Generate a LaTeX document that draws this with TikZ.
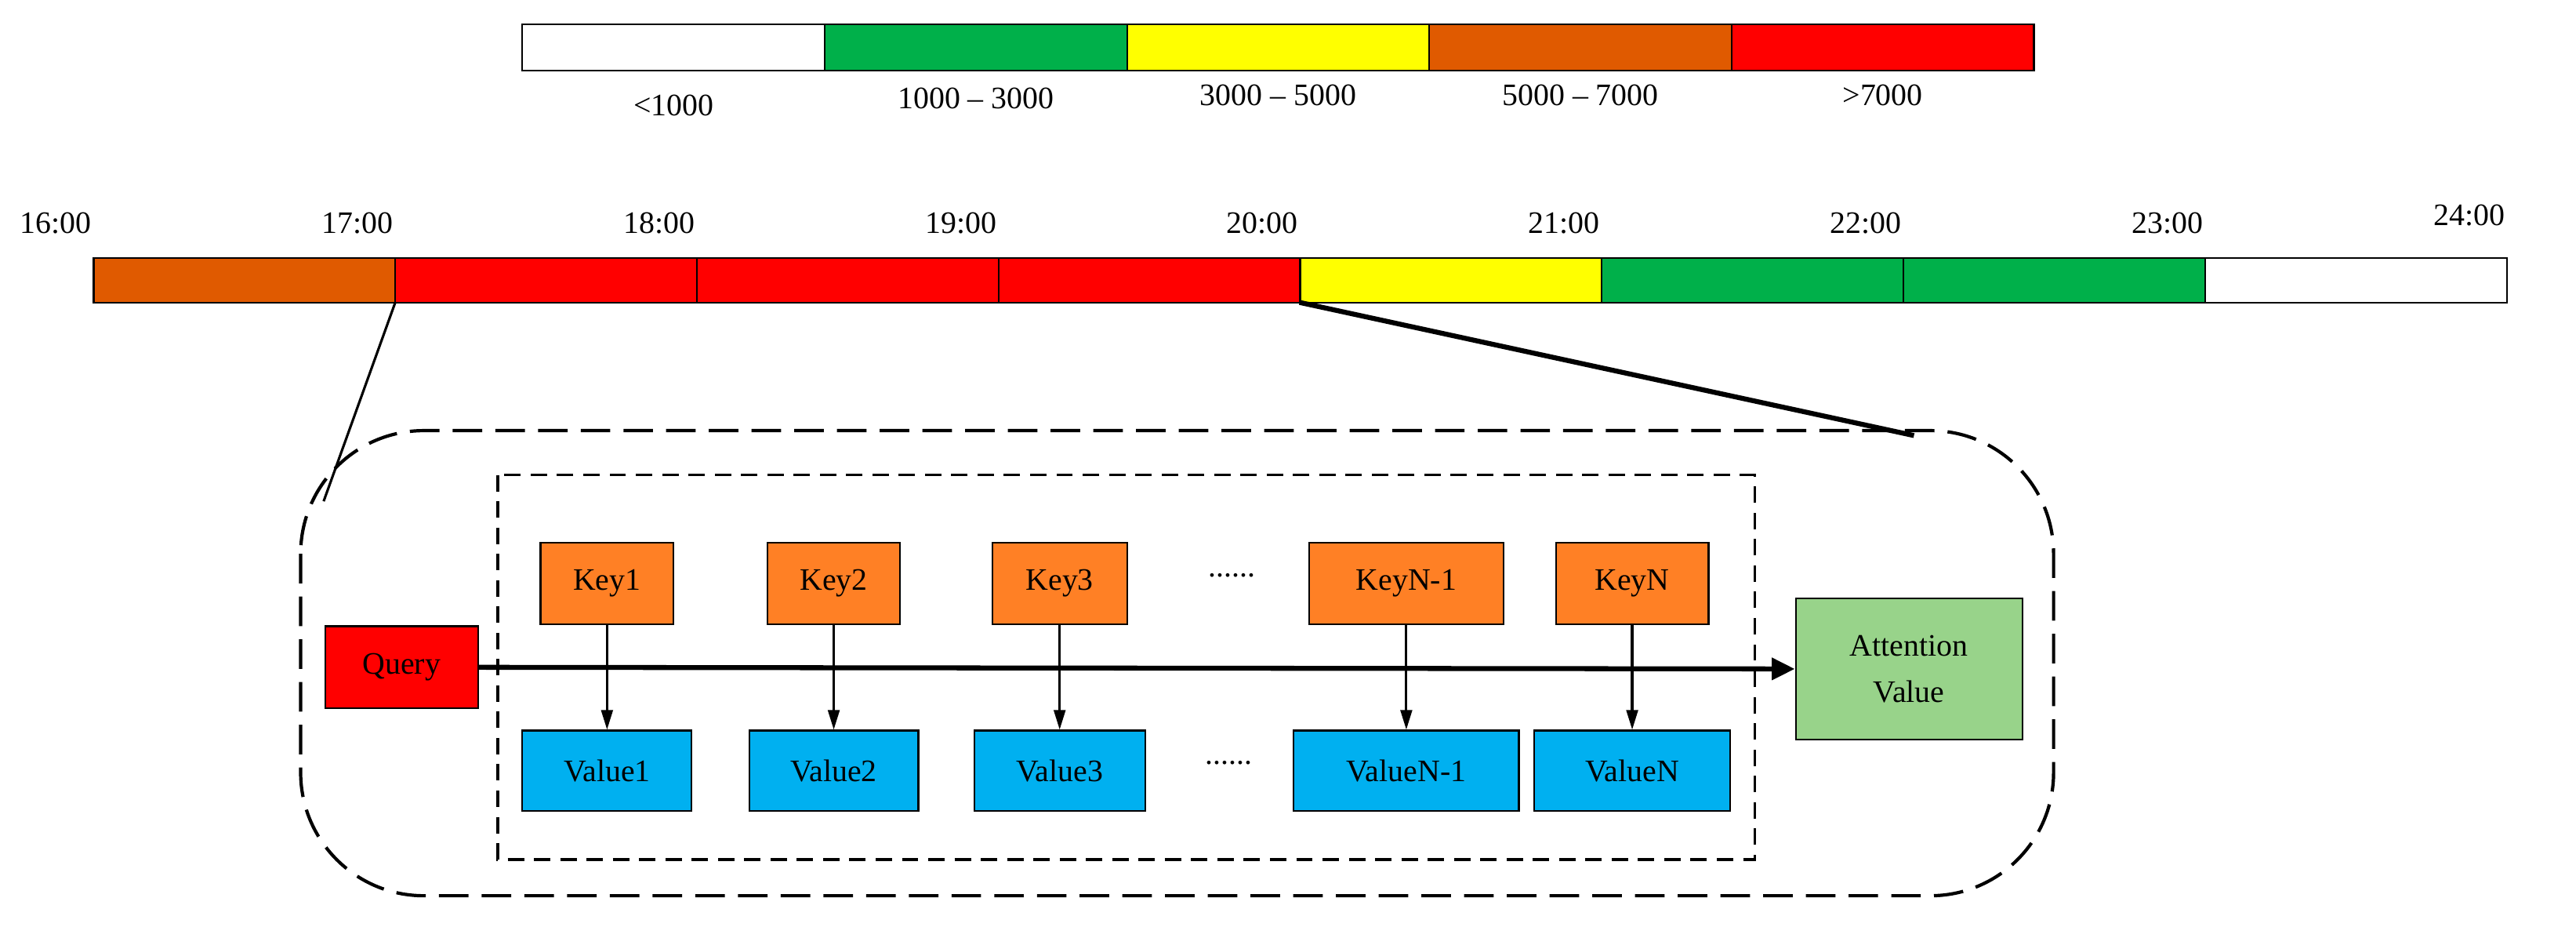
\documentclass[tikz,border=0pt]{standalone}
\usepackage{fontspec}
\setmainfont{Liberation Serif}
\usetikzlibrary{arrows.meta}
\definecolor{cgreen}{HTML}{00B04A}
\definecolor{cyellow}{HTML}{FFFF00}
\definecolor{corange}{HTML}{E05A00}
\definecolor{cred}{HTML}{FF0000}
\definecolor{kor}{HTML}{FF8025}
\definecolor{vblue}{HTML}{00B0F0}
\definecolor{agreen}{HTML}{98D38A}
\tikzset{
 cell/.style={draw=black,line width=1pt},
 lbl/.style={font=\fontsize{19}{22}\selectfont},
 blk/.style={draw=black,line width=1pt,inner sep=0pt,font=\fontsize{19}{22}\selectfont},
 karrow/.style={line width=1.5pt,-{Triangle[length=12pt,width=7pt]}},
}
\begin{document}
\begin{tikzpicture}[x=1pt,y=-1pt]
\useasboundingbox (0,0) rectangle (1568,564);
% legend
\foreach \c [count=\i from 0] in {white,cgreen,cyellow,corange,cred}
  \filldraw[cell,fill=\c] (318+184*\i,15) rectangle (502+184*\i,43);
\node[lbl] (l0) at (410,64) {<1000};
\node[lbl] (l1) at (594,60) {1000 – 3000};
\node[lbl] (l2) at (778,58) {3000 – 5000};
\node[lbl] (l3) at (962,58) {5000 – 7000};
\node[lbl] (l4) at (1146,58) {>7000};
% timeline
\foreach \c [count=\i from 0] in {corange,cred,cred,cred,cyellow,cgreen,cgreen,white}
  \filldraw[cell,fill=\c] (57+183.6*\i,157) rectangle (240.6+183.6*\i,184);
\foreach \t [count=\i from 0] in {16,17,18,19,20,21,22,23}
  \node[lbl] (t\i) at (34+183.6*\i,136) {\t:00};
\node[lbl] (t8) at (1503,131) {24:00};
\coordinate (za) at (240.6,184);
\coordinate (zb) at (791,184);
\coordinate (zc) at (197,305);
\coordinate (zd) at (1165,265);
\draw[line width=1.5pt] (za) -- (zc);
\draw[line width=3pt] (zb) -- (zd);
% outer box
\draw[line width=2pt,dash pattern=on 18pt off 8pt,rounded corners=75pt] (183,262) rectangle (1250,545);
\draw[line width=1.5pt,dash pattern=on 10pt off 6pt] (303,289) rectangle (1068,523);
% nodes
\node[blk,fill=kor,minimum width=81pt,minimum height=50pt] (k1) at (369.5,355) {Key1};
\node[blk,fill=kor,minimum width=81pt,minimum height=50pt] (k2) at (507.5,355) {Key2};
\node[blk,fill=kor,minimum width=82pt,minimum height=50pt] (k3) at (645,355) {Key3};
\node[blk,fill=kor,minimum width=118pt,minimum height=50pt] (k4) at (856,355) {KeyN-1};
\node[blk,fill=kor,minimum width=93pt,minimum height=50pt] (k5) at (993.5,355) {KeyN};
\node[blk,fill=vblue,minimum width=103pt,minimum height=49pt] (v1) at (369.5,469) {Value1};
\node[blk,fill=vblue,minimum width=103pt,minimum height=49pt] (v2) at (507.5,469) {Value2};
\node[blk,fill=vblue,minimum width=104pt,minimum height=49pt] (v3) at (645,469) {Value3};
\node[blk,fill=vblue,minimum width=137pt,minimum height=49pt] (v4) at (856,469) {ValueN-1};
\node[blk,fill=vblue,minimum width=119pt,minimum height=49pt] (v5) at (993.5,469) {ValueN};
\node[blk,fill=cred,minimum width=93pt,minimum height=50pt] (q) at (244.5,406) {Query};
\node[blk,fill=agreen,minimum width=138pt,minimum height=86pt,align=center] (av) at (1162,407) {Attention\\[6pt]Value};
\node[lbl] (d1) at (750,350) {......};
\node[lbl] (d2) at (748,464) {......};
\draw[line width=3pt,-{Triangle[length=14pt,width=13pt]}] (q.east) -- (av.west);
\foreach \i in {1,...,5} \draw[karrow] (k\i) -- (v\i);
\end{tikzpicture}
\end{document}
